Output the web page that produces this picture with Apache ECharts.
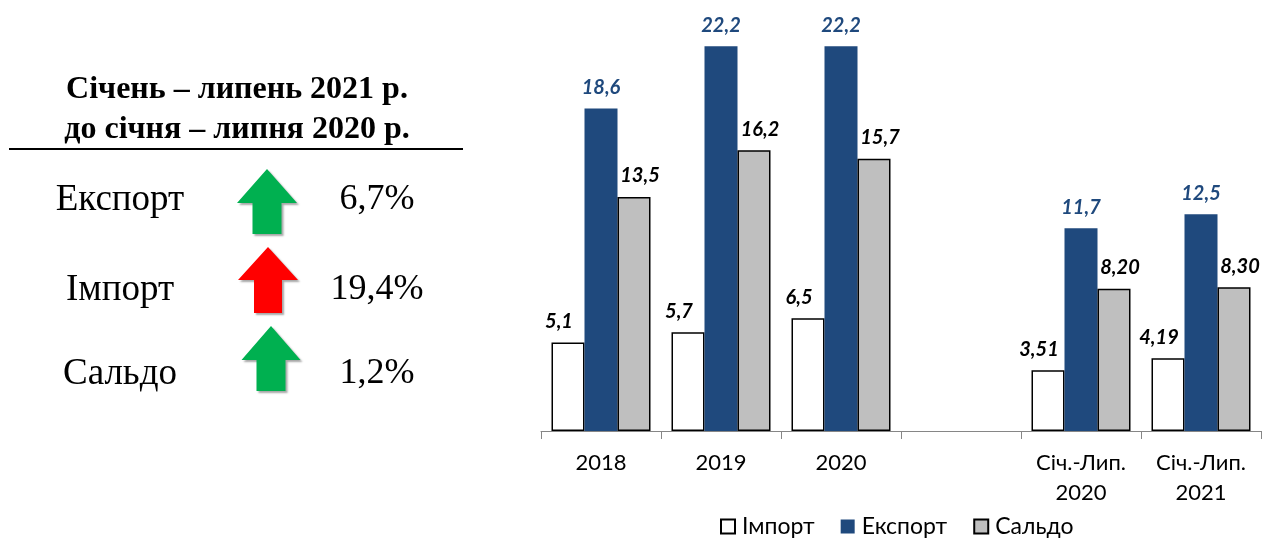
<!DOCTYPE html>
<html>
<head>
<meta charset="utf-8">
<script src="https://cdn.jsdelivr.net/npm/echarts@6/dist/echarts.min.js"></script>
<style>
  html, body { margin: 0; padding: 0; background: #fff; }
  #chart { width: 1274px; height: 538px; }
</style>
</head>
<body>
<div id="chart"></div>
<script>
const categories = ['2018', '2019', '2020', '', 'Січ.-Лип.\n2020', 'Січ.-Лип.\n2021'];
const importValues = [5.1, 5.7, 6.5, null, 3.51, 4.19];
const exportValues = [18.6, 22.2, 22.2, null, 11.7, 12.5];
const saldoValues = [13.5, 16.2, 15.7, null, 8.20, 8.30];
const importLabels = ['5,1', '5,7', '6,5', '', '3,51', '4,19'];
const exportLabels = ['18,6', '22,2', '22,2', '', '11,7', '12,5'];
const saldoLabels = ['13,5', '16,2', '15,7', '', '8,20', '8,30'];

// left panel
const panelTitle = ['Січень – липень 2021 р.', 'до січня – липня 2020 р.'];
const panelRows = ['Експорт', 'Імпорт', 'Сальдо'];
const panelChanges = ['6,7%', '19,4%', '1,2%'];
const panelColors = ['#00B050', '#FF0000', '#00B050'];

const chartDom = document.getElementById('chart');
const myChart = echarts.init(chartDom);

const serif = '"Liberation Serif", "Times New Roman", serif';
const sans = 'Lato, "Open Sans", sans-serif';

// arrow shapes for the three rows: [tipX, tipY, headHalf, headBaseY, shaftHalf, bottomY]
const arrowGeom = [
    [267, 169, 30, 203, 14.5, 234],
    [268, 247, 30, 280, 14, 313],
    [271, 326, 29.5, 360, 14.5, 391]
];
const rowY = [200, 290, 374];

function arrowPoints(g) {
    const [cx, ty, hh, by, sh, bot] = g;
    return [[cx, ty], [cx + hh, by], [cx + sh, by], [cx + sh, bot], [cx - sh, bot], [cx - sh, by], [cx - hh, by]];
}

const graphics = [];
panelTitle.forEach((t, i) => {
    graphics.push({
        type: 'text', x: 237, y: 90 + i * 40,
        style: {text: t, font: 'bold 32px ' + serif, fill: '#000', align: 'center', verticalAlign: 'middle'}
    });
});
graphics.push({
    type: 'line', shape: {x1: 9, y1: 149, x2: 463, y2: 149},
    style: {stroke: '#000', lineWidth: 2}
});
panelRows.forEach((name, i) => {
    graphics.push({
        type: 'text', x: 120, y: rowY[i],
        style: {text: name, font: '37px ' + serif, fill: '#000', align: 'center', verticalAlign: 'middle'}
    });
    graphics.push({
        type: 'text', x: 377, y: rowY[i],
        style: {text: panelChanges[i], font: '36px ' + serif, fill: '#000', align: 'center', verticalAlign: 'middle'}
    });
    graphics.push({
        type: 'polygon',
        shape: {points: arrowPoints(arrowGeom[i])},
        style: {
            fill: panelColors[i],
            shadowColor: 'rgba(0,0,0,0.35)',
            shadowBlur: 2,
            shadowOffsetX: 2,
            shadowOffsetY: 2
        }
    });
});

const labelBase = {
    show: true,
    position: 'top',
    distance: 11,
    fontFamily: sans,
    fontSize: 20,
    fontWeight: 'bold',
    fontStyle: 'italic'
};

const option = {
    animation: false,
    backgroundColor: '#fff',
    graphic: graphics,
    grid: {
        left: 541,
        right: 13,
        top: 15,
        bottom: 107
    },
    legend: {
        left: 715,
        top: 510,
        itemWidth: 14,
        itemHeight: 14,
        itemGap: 26,
        icon: 'rect',
        textStyle: {fontFamily: sans, fontSize: 23, color: '#000', padding: [0, 0, 0, 2]},
        data: ['Імпорт', 'Експорт', 'Сальдо']
    },
    xAxis: {
        type: 'category',
        data: categories,
        axisLine: {lineStyle: {color: '#868686', width: 1}},
        axisTick: {show: true, length: 8, lineStyle: {color: '#868686'}},
        axisLabel: {
            fontFamily: sans,
            fontSize: 22,
            color: '#000',
            margin: 17,
            lineHeight: 30,
            interval: 0
        }
    },
    yAxis: {
        type: 'value',
        min: 0,
        max: 24,
        show: false,
        splitLine: {show: false}
    },
    series: [
        {
            name: 'Імпорт',
            type: 'bar',
            data: importValues,
            barWidth: 33,
            barGap: '0%',
            itemStyle: {color: '#fff', borderColor: '#000', borderWidth: 1.5},
            label: Object.assign({}, labelBase, {
                color: '#000',
                offset: [-9, 0],
                formatter: p => importLabels[p.dataIndex]
            })
        },
        {
            name: 'Експорт',
            type: 'bar',
            data: exportValues,
            barWidth: 33,
            barGap: '0%',
            itemStyle: {color: '#1F497D'},
            label: Object.assign({}, labelBase, {
                color: '#1F497D',
                formatter: p => exportLabels[p.dataIndex]
            })
        },
        {
            name: 'Сальдо',
            type: 'bar',
            data: saldoValues,
            barWidth: 33,
            barGap: '0%',
            itemStyle: {color: '#BFBFBF', borderColor: '#000', borderWidth: 1.5},
            label: Object.assign({}, labelBase, {
                color: '#000',
                offset: [6, 0],
                formatter: p => saldoLabels[p.dataIndex]
            })
        }
    ]
};

myChart.setOption(option);

window.addEventListener('resize', function () {
    myChart.resize();
});
</script>
</body>
</html>
